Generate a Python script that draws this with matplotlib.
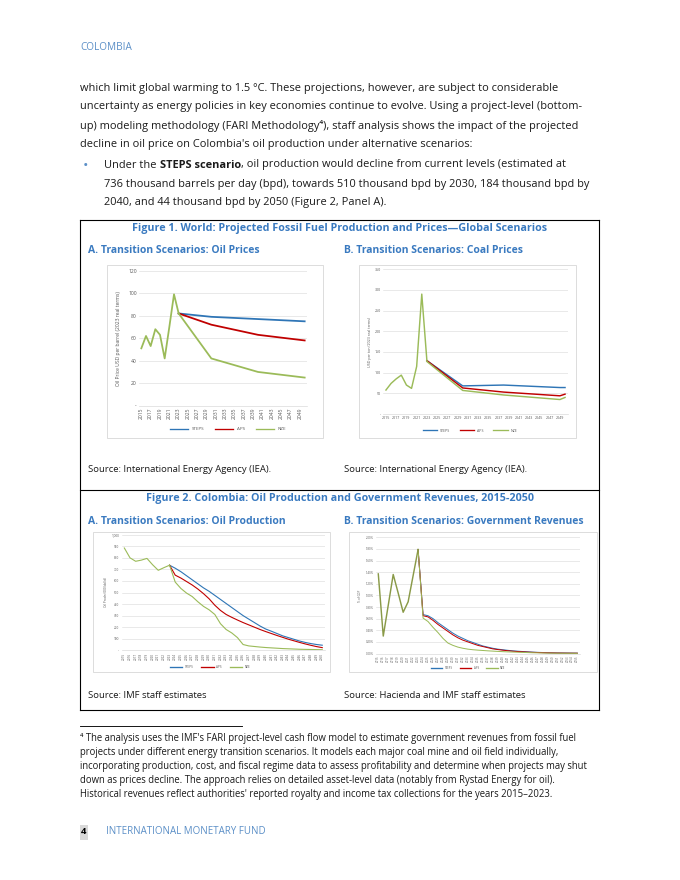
import matplotlib
matplotlib.use("Agg")
import matplotlib.pyplot as plt
from matplotlib.patches import Rectangle
from matplotlib.lines import Line2D

plt.rcParams['font.family'] = ['Open Sans', 'DejaVu Sans']

# ---- data ----
hist_years = [2015, 2016, 2017, 2018, 2019, 2020, 2021, 2022, 2023]
proj_years = [2023, 2030, 2040, 2050]

oil_price_hist = [51, 62, 53, 68, 63, 42, 70, 99, 82]
oil_price_steps = [82, 79, 77, 75]
oil_price_aps = [82, 72, 63, 58]
oil_price_nze = [82, 42, 30, 25]

coal_price_hist = [58, 74, 85, 94, 70, 62, 115, 290, 129]
coal_proj_years = [2023, 2030, 2038, 2049, 2050]
coal_price_steps = [129, 68, 70, 64, 64]
coal_price_aps = [129, 63, 53, 44, 48]
coal_price_nze = [127, 57, 46, 35, 40]

prod_years = list(range(2015, 2051))
prod_proj_years = list(range(2023, 2051))
prod_hist = [885, 800, 770, 780, 795, 740, 692, 715, 736]
prod_steps = [736, 710, 680, 645, 610, 575, 540, 510, 475, 440, 405, 370, 335,
              300, 270, 240, 210, 184, 165, 145, 125, 110, 95, 80, 68, 58, 50, 44]
prod_aps = [736, 650, 625, 595, 565, 530, 490, 445, 390, 345, 310, 285, 262,
            240, 220, 200, 180, 162, 145, 128, 112, 96, 82, 68, 55, 43, 32, 23]
prod_nze = [736, 590, 535, 495, 465, 420, 380, 350, 310, 230, 180, 150, 110,
            50, 38, 33, 28, 24, 21, 18, 15, 13, 11, 9, 8, 7, 6, 5]

rev_years = list(range(2015, 2056))
rev_proj_years = list(range(2023, 2056))
rev_hist = [1.37, 0.30, 0.83, 1.36, 1.04, 0.71, 0.89, 1.34, 1.79]
rev_steps = [1.79, 0.67, 0.65, 0.60, 0.53, 0.47, 0.41, 0.35, 0.30, 0.26, 0.22,
             0.19, 0.16, 0.13, 0.11, 0.09, 0.075, 0.065, 0.055, 0.046, 0.04,
             0.034, 0.029, 0.024, 0.02, 0.017, 0.014, 0.012, 0.01, 0.009,
             0.008, 0.007, 0.006]
rev_aps = [1.79, 0.65, 0.63, 0.57, 0.50, 0.44, 0.38, 0.32, 0.27, 0.23, 0.20,
           0.17, 0.14, 0.12, 0.10, 0.08, 0.068, 0.057, 0.048, 0.04, 0.034,
           0.029, 0.024, 0.02, 0.017, 0.014, 0.012, 0.01, 0.008, 0.007,
           0.006, 0.005, 0.005]
rev_nze = [1.79, 0.61, 0.55, 0.45, 0.36, 0.26, 0.18, 0.14, 0.11, 0.09, 0.075,
           0.065, 0.058, 0.052, 0.046, 0.041, 0.036, 0.032, 0.028, 0.025,
           0.022, 0.019, 0.016, 0.013, 0.011, 0.009, 0.007, 0.006, 0.005,
           0.004, 0.004, 0.003, 0.003]

scenarios = ['STEPS', 'APS', 'NZE']
colors = {'STEPS': '#2e75b6', 'APS': '#c00000', 'NZE': '#9bbb59'}

body_lines = [
    "which limit global warming to 1.5 °C. These projections, however, are subject to considerable",
    "uncertainty as energy policies in key economies continue to evolve. Using a project-level (bottom-",
    "up) modeling methodology (FARI Methodology⁴), staff analysis shows the impact of the projected",
    "decline in oil price on Colombia's oil production under alternative scenarios:",
]
bullet_rest = [
    "736 thousand barrels per day (bpd), towards 510 thousand bpd by 2030, 184 thousand bpd by",
    "2040, and 44 thousand bpd by 2050 (Figure 2, Panel A).",
]
footnote_lines = [
    "⁴ The analysis uses the IMF's FARI project-level cash flow model to estimate government revenues from fossil fuel",
    "projects under different energy transition scenarios. It models each major coal mine and oil field individually,",
    "incorporating production, cost, and fiscal regime data to assess profitability and determine when projects may shut",
    "down as prices decline. The approach relies on detailed asset-level data (notably from Rystad Energy for oil).",
    "Historical revenues reflect authorities' reported royalty and income tax collections for the years 2015–2023.",
]

W, H = 680, 880
BLUE = '#3a7ac0'
LIGHTBLUE = '#5b8fc7'
GRAY = '#595959'
INK = '#1a1a1a'

fig = plt.figure(figsize=(8.5, 11), dpi=80)
r = fig.canvas.get_renderer()


def fx(x):
    return x / W


def fy(y):
    return 1 - y / H


def txt(x, y, s, **kw):
    return fig.text(fx(x), fy(y), s, va='center', **kw)


def hline(x0, x1, y, **kw):
    fig.add_artist(Line2D([fx(x0), fx(x1)], [fy(y), fy(y)], transform=fig.transFigure, **kw))


def vline(x, y0, y1, **kw):
    fig.add_artist(Line2D([fx(x), fx(x)], [fy(y0), fy(y1)], transform=fig.transFigure, **kw))


def chart_box(x0, y0, x1, y1):
    fig.add_artist(Rectangle((fx(x0), fy(y1)), (x1 - x0) / W, (y1 - y0) / H,
                             transform=fig.transFigure, fill=False,
                             edgecolor='#d9d9d9', lw=0.8))


def make_axes(x0, y0, x1, y1, xlim, ylim, yticks, ylabels, ylabel, xticks, rot, tsize, lpad=3):
    ax = fig.add_axes([fx(x0), fy(y1), (x1 - x0) / W, (y1 - y0) / H])
    ax.set_xlim(*xlim)
    ax.set_ylim(*ylim)
    ax.set_yticks(yticks)
    ax.set_yticklabels(ylabels)
    ax.set_xticks(xticks)
    ax.set_xticklabels([str(v) for v in xticks], rotation=rot)
    ax.tick_params(length=0, labelsize=tsize, labelcolor=GRAY, pad=2)
    for s in ['top', 'right', 'left']:
        ax.spines[s].set_visible(False)
    ax.spines['bottom'].set_color('#d9d9d9')
    ax.spines['bottom'].set_linewidth(0.6)
    ax.grid(axis='y', color='#d9d9d9', lw=0.5)
    ax.set_axisbelow(True)
    ax.set_ylabel(ylabel, fontsize=tsize, color=GRAY, labelpad=lpad)
    return ax


def plot_scenarios(ax, hx, hy, px, series, lw, hist_color=None, hist_lw=None):
    for name, ys in zip(scenarios, series):
        ax.plot(px, ys, color=colors[name], lw=lw)
    ax.plot(hx, hy, color=hist_color or colors['NZE'], lw=hist_lw or lw)


def add_legend(ax, cx, cy, size):
    handles = [Line2D([], [], color=colors[s], lw=1.2) for s in scenarios]
    ax.legend(handles, scenarios, loc='center', bbox_to_anchor=(fx(cx), fy(cy)),
              bbox_transform=fig.transFigure, ncol=3, frameon=False,
              fontsize=size, handlelength=4, columnspacing=2.5,
              labelcolor=GRAY)


# ---- page text ----
txt(80, 48, "COLOMBIA", fontsize=9, color=LIGHTBLUE)

BODY = 9.9
for i, line in enumerate(body_lines):
    txt(80, 88 + 19 * i, line, fontsize=BODY, color=INK)

txt(86, 166, "•", fontsize=13, color=LIGHTBLUE, ha='center')
x = 104
for s, w, gap in [("Under the", 'normal', 3.0), ("STEPS scenario", 'bold', 0),
                  (", oil production would decline from current levels (estimated at", 'normal', 0)]:
    t = txt(x, 165, s, fontsize=BODY, color=INK, fontweight=w)
    x += t.get_window_extent(renderer=r).width + gap
for i, line in enumerate(bullet_rest):
    txt(104, 184 + 19 * i, line, fontsize=BODY, color=INK)

# ---- figure frame ----
LW = 1.0
hline(80, 599, 220, color='black', lw=LW)
hline(80, 599, 490, color='black', lw=LW)
hline(80, 599, 710, color='black', lw=LW)
vline(80, 220, 710, color='black', lw=LW)
vline(599, 220, 710, color='black', lw=LW)

TITLE = 9.7
PANEL = 9.4
txt(340, 228, "Figure 1. World: Projected Fossil Fuel Production and Prices—Global Scenarios",
    fontsize=TITLE, fontweight='bold', color=BLUE, ha='center')
txt(88, 250, "A. Transition Scenarios: Oil Prices", fontsize=PANEL, fontweight='bold', color=BLUE)
txt(344, 250, "B. Transition Scenarios: Coal Prices", fontsize=PANEL, fontweight='bold', color=BLUE)
txt(88, 470, "Source: International Energy Agency (IEA).", fontsize=8.5, color=INK)
txt(344, 470, "Source: International Energy Agency (IEA).", fontsize=8.5, color=INK)

txt(340, 499, "Figure 2. Colombia: Oil Production and Government Revenues, 2015-2050",
    fontsize=TITLE, fontweight='bold', color=BLUE, ha='center')
txt(88, 522, "A. Transition Scenarios: Oil Production", fontsize=PANEL, fontweight='bold', color=BLUE)
txt(344, 522, "B. Transition Scenarios: Government Revenues", fontsize=PANEL, fontweight='bold', color=BLUE)
txt(88, 696, "Source: IMF staff estimates", fontsize=8.5, color=INK)
txt(344, 696, "Source: Hacienda and IMF staff estimates", fontsize=8.5, color=INK)

odd_years = list(range(2015, 2050, 2))

# ---- Figure 1A: oil prices ----
chart_box(107, 265, 323, 438)
ax = make_axes(139, 270.7, 307, 405.7, (2014.5, 2050.5), (0, 120), range(0, 121, 20),
               ['-', '20', '40', '60', '80', '100', '120'],
               'Oil Price USD per barrel (2023 real terms)', odd_years, 90, 4.5, lpad=6)
plot_scenarios(ax, hist_years, oil_price_hist, proj_years,
               [oil_price_steps, oil_price_aps, oil_price_nze], 1.6)
add_legend(ax, 228, 429, 4.0)

# ---- Figure 1B: coal prices ----
chart_box(359, 265, 576, 438)
ax = make_axes(383.4, 269.3, 567.6, 414, (2014.5, 2050.5), (0, 350), range(0, 351, 50),
               ['-', '50', '100', '150', '200', '250', '300', '350'],
               'USD per ton (2023 real terms)', odd_years, 0, 3.3)
plot_scenarios(ax, hist_years, coal_price_hist, coal_proj_years,
               [coal_price_steps, coal_price_aps, coal_price_nze], 1.3)
add_legend(ax, 470, 430.7, 3.3)

# ---- Figure 2A: oil production ----
chart_box(93, 532, 330, 672)
ax = make_axes(121.5, 534.7, 325.1, 650.3, (2014.5, 2050.5), (0, 1000), range(0, 1001, 100),
               ['-', '100', '200', '300', '400', '500', '600', '700', '800', '900', '1,000'],
               'Oil Prodn (000 bbl/d)', prod_years, 90, 2.8)
plot_scenarios(ax, hist_years, prod_hist, prod_proj_years,
               [prod_steps, prod_aps, prod_nze], 1.0)
add_legend(ax, 210, 666.7, 2.8)

# ---- Figure 2B: government revenues ----
chart_box(349, 532, 597, 672)
ax = make_axes(375.8, 537.3, 579.8, 653.5, (2014.5, 2055.5), (0, 2.0),
               [i * 0.2 for i in range(11)],
               ['%.2f%%' % (i * 0.2) for i in range(11)],
               '% of GDP', rev_years, 90, 2.6)
plot_scenarios(ax, hist_years, rev_hist, rev_proj_years,
               [rev_steps, rev_aps, rev_nze], 0.9, hist_color='#8a9a48', hist_lw=1.3)
add_legend(ax, 468, 667.7, 2.6)

# ---- footnote & footer ----
hline(80, 242, 726, color='black', lw=0.8)
for i, line in enumerate(footnote_lines):
    txt(80, 739 + 14 * i, line, fontsize=8.6, color=INK)

fig.add_artist(Rectangle((fx(80), fy(840)), 8 / W, 15 / H, transform=fig.transFigure,
                         color='#d9d9d9', lw=0))
txt(84, 832, "4", fontsize=8.5, fontweight='bold', color='black', ha='center')
txt(106, 832, "INTERNATIONAL MONETARY FUND", fontsize=8.8, color=LIGHTBLUE)

fig.savefig('out.png', dpi=80)
